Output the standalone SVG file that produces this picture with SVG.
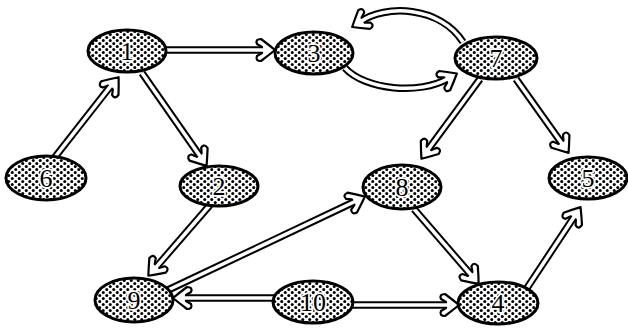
<svg xmlns="http://www.w3.org/2000/svg" xmlns:xlink="http://www.w3.org/1999/xlink" width="628" height="329" viewBox="0 0 628 329">
<style>
.node ellipse{fill:url(#dots);stroke:#000;stroke-width:3}
.node text{font-family:"Liberation Serif","DejaVu Serif",serif;font-size:26px;text-anchor:middle;fill:#000;stroke:#fff;stroke-width:3.5;paint-order:stroke;stroke-linejoin:round}
.so{fill:none;stroke:#000;stroke-width:7.5}
.si{fill:none;stroke:#fff;stroke-width:3.5}
.hd{fill:#fff;stroke:#000;stroke-width:2.2;stroke-linejoin:round}
</style>
<defs>
<pattern id="dots" patternUnits="userSpaceOnUse" width="7" height="6">
<rect width="7" height="6" fill="#fff"/>
<circle cx="1.75" cy="1.5" r="1.5" fill="#000"/>
<circle cx="5.25" cy="4.5" r="1.5" fill="#000"/>
</pattern>
<path id="ah" class="hd" d="M1,0 Q-5,-5 -13,-11 Q-19,-11 -17,-6 L-12,-3 L-12,3 L-17,6 Q-19,11 -13,11 Q-5,5 1,0 Z"/>
</defs>
<rect width="628" height="329" fill="#fff"/>
<g id="connectors">
<!-- 6 -> 1 -->
<g><path class="so" d="M55,157 L112,84.3"/><use xlink:href="#ah" transform="translate(118,78) rotate(-51.4)"/><path class="si" d="M55,157 L112,84.3"/></g>
<!-- 1 -> 2 -->
<g><path class="so" d="M142,73 L201,157.5"/><use xlink:href="#ah" transform="translate(206,165) rotate(55.2)"/><path class="si" d="M142,73 L201,157.5"/></g>
<!-- 1 -> 3 -->
<g><path class="so" d="M166,50 L265,50"/><use xlink:href="#ah" transform="translate(274,50)"/><path class="si" d="M166,50 L265,50"/></g>
<!-- 3 -> 7 -->
<g><path class="so" d="M345,68 C365,90 420,95 448,78.5"/><use xlink:href="#ah" transform="translate(456,74) rotate(-30)"/><path class="si" d="M345,68 C365,90 420,95 448,78.5"/></g>
<!-- 7 -> 3 -->
<g><path class="so" d="M463,42 C440,6 385,4 360,22"/><use xlink:href="#ah" transform="translate(353,26.5) rotate(148)"/><path class="si" d="M463,42 C440,6 385,4 360,22"/></g>
<!-- 7 -> 8 -->
<g><path class="so" d="M480,79 L427,151"/><use xlink:href="#ah" transform="translate(422,158) rotate(126.3)"/><path class="si" d="M480,79 L427,151"/></g>
<!-- 7 -> 5 -->
<g><path class="so" d="M516,79 L563,145"/><use xlink:href="#ah" transform="translate(568,152) rotate(54.5)"/><path class="si" d="M516,79 L563,145"/></g>
<!-- 2 -> 9 -->
<g><path class="so" d="M210,205 L155,268.5"/><use xlink:href="#ah" transform="translate(149,275) rotate(131.5)"/><path class="si" d="M210,205 L155,268.5"/></g>
<!-- 9 -> 8 -->
<g><path class="so" d="M168,290 L356,201"/><use xlink:href="#ah" transform="translate(364,197) rotate(-25.4)"/><path class="si" d="M168,290 L356,201"/></g>
<!-- 10 -> 9 -->
<g><path class="so" d="M274,298 L183,298"/><use xlink:href="#ah" transform="translate(174,298) rotate(180)"/><path class="si" d="M274,298 L183,298"/></g>
<!-- 10 -> 4 -->
<g><path class="so" d="M351,305 L449,305"/><use xlink:href="#ah" transform="translate(458,305)"/><path class="si" d="M351,305 L449,305"/></g>
<!-- 8 -> 4 -->
<g><path class="so" d="M414,209 L472,276"/><use xlink:href="#ah" transform="translate(478,283) rotate(49.1)"/><path class="si" d="M414,209 L472,276"/></g>
<!-- 4 -> 5 -->
<g><path class="so" d="M527,288 L575,215.5"/><use xlink:href="#ah" transform="translate(580,208) rotate(-56.5)"/><path class="si" d="M527,288 L575,215.5"/></g>
</g>
<g id="node1" class="node"><ellipse cx="127" cy="51" rx="39" ry="21"/><text x="127" y="60">1</text></g>
<g id="node2" class="node"><ellipse cx="219" cy="186" rx="39" ry="20"/><text x="219" y="195">2</text></g>
<g id="node3" class="node"><ellipse cx="314" cy="53" rx="39" ry="21"/><text x="314" y="62">3</text></g>
<g id="node4" class="node"><ellipse cx="498" cy="303" rx="40" ry="21"/><text x="498" y="312">4</text></g>
<g id="node5" class="node"><ellipse cx="588" cy="178" rx="39" ry="21"/><text x="588" y="187">5</text></g>
<g id="node6" class="node"><ellipse cx="46" cy="178" rx="40" ry="22"/><text x="46" y="187">6</text></g>
<g id="node7" class="node"><ellipse cx="496" cy="58" rx="41" ry="21"/><text x="496" y="67">7</text></g>
<g id="node8" class="node"><ellipse cx="402" cy="187" rx="39" ry="22"/><text x="402" y="196">8</text></g>
<g id="node9" class="node"><ellipse cx="134" cy="300" rx="39" ry="22"/><text x="134" y="309">9</text></g>
<g id="node10" class="node"><ellipse cx="313" cy="302" rx="40" ry="21"/><text x="313" y="311">10</text></g>
</svg>
